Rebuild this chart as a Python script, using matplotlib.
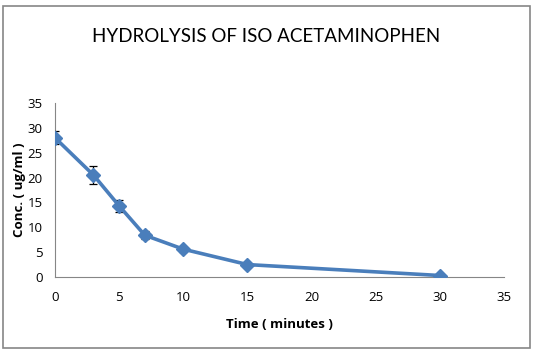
import matplotlib.pyplot as plt
from matplotlib.patches import Rectangle

# time (minutes) vs concentration (ug/ml)
time_min = [0, 3, 5, 7, 10, 15, 30]
conc = [28.0, 20.5, 14.3, 8.4, 5.6, 2.5, 0.3]
conc_err = [1.3, 1.8, 1.2, 0.8, 0.5, 0.0, 0.0]

W, H = 535, 355
fig = plt.figure(figsize=(W / 100, H / 100), dpi=100)
plt.rcParams['font.family'] = ['Open Sans', 'DejaVu Sans']

# chart area border
fig.patches.append(Rectangle((3 / W, 1 - 348 / H), 527 / W, 342 / H,
                             transform=fig.transFigure, fill=False,
                             edgecolor='#868686', linewidth=1.2))

ax = fig.add_axes([55 / W, 1 - 277 / H, 449 / W, 174 / H])
ax.errorbar(time_min, conc, yerr=conc_err, color='#4A7EBB', linewidth=2.6,
            marker='D', markersize=7, ecolor='black', elinewidth=0.9,
            capsize=3, capthick=0.9, zorder=3)

ax.set_xlim(0, 35)
ax.set_ylim(0, 35)
ax.set_xticks(range(0, 36, 5))
ax.set_yticks(range(0, 36, 5))
ax.spines['top'].set_visible(False)
ax.spines['right'].set_visible(False)
for s in ('left', 'bottom'):
    ax.spines[s].set_color('#868686')
ax.tick_params(length=0, labelsize=9.5, pad=10)
ax.tick_params(axis='y', pad=9)

fig.text(266 / W, 1 - 37 / H, 'HYDROLYSIS OF ISO ACETAMINOPHEN',
         ha='center', va='center', fontsize=13.5, family=['Lato', 'DejaVu Sans'],
         color='black')
ax.set_xlabel('Time ( minutes )', fontsize=9.5, fontweight='bold', labelpad=10)
ax.set_ylabel('Conc. ( ug/ml )', fontsize=9.5, fontweight='bold', labelpad=1)

fig.savefig('out.png', dpi=100)
